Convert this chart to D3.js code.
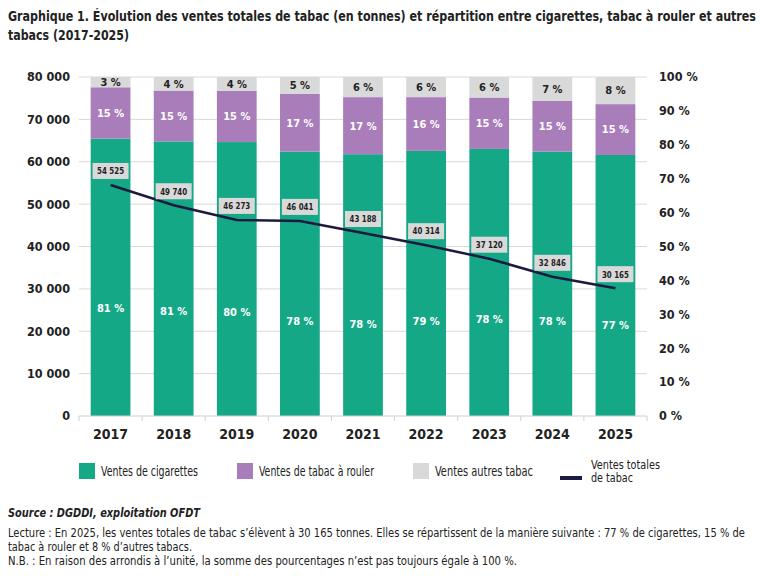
<!DOCTYPE html>
<html>
<head>
<meta charset="utf-8">
<script src="https://cdn.jsdelivr.net/npm/d3@7"></script>
<style>
  body { margin: 0; background: #fff; }
  svg text { font-family: "DejaVu Sans Condensed", "DejaVu Sans", sans-serif; font-stretch: condensed; }
</style>
</head>
<body>
<div id="chart"></div>
<script>
// data
var years = ['2017', '2018', '2019', '2020', '2021', '2022', '2023', '2024', '2025'];
var totalSales = [54525, 49740, 46273, 46041, 43188, 40314, 37120, 32846, 30165];
var cigShare = [81, 81, 80, 78, 78, 79, 78, 78, 77];
var rollShare = [15, 15, 15, 17, 17, 16, 15, 15, 15];
var otherShare = [3, 4, 4, 5, 6, 6, 6, 7, 8];
var leftTicks = [0, 10000, 20000, 30000, 40000, 50000, 60000, 70000, 80000];
var rightTicks = [0, 0.1, 0.2, 0.3, 0.4, 0.5, 0.6, 0.7, 0.8, 0.9, 1];

var colours = {cig: '#14a887', roll: '#a97cba', other: '#d9d9d9', line: '#1c1a3e'};

var W = 763, H = 576;
var svg = d3.select('#chart').append('svg')
    .attr('width', W).attr('height', H)
    .attr('viewBox', `0 0 ${W} ${H}`);

// title
var title = svg.append('text')
    .style('font-size', '13.5px').style('font-weight', 'bold').attr('fill', '#222');
title.append('tspan').attr('x', 8).attr('y', 21)
    .attr('textLength', 748).attr('lengthAdjust', 'spacingAndGlyphs')
    .text('Graphique 1. Évolution des ventes totales de tabac (en tonnes) et répartition entre cigarettes, tabac à rouler et autres');
title.append('tspan').attr('x', 8).attr('y', 40)
    .attr('textLength', 121).attr('lengthAdjust', 'spacingAndGlyphs')
    .text('tabacs (2017-2025)');

// scales
var x = d3.scaleBand().domain(years).range([79, 647]).paddingInner(0.37).paddingOuter(0.185);
var yLeft = d3.scaleLinear().domain([0, 80000]).range([416, 77]);
var yPct = d3.scaleLinear().domain([0, 1]).range([416, 77]);

var frFormat = d3.formatLocale({decimal: ',', thousands: '\u00a0', grouping: [3], currency: ['', ' €']}).format(',d');

// gridlines
svg.append('g').selectAll('line').data(leftTicks.slice(1)).enter().append('line')
    .attr('x1', 79).attr('x2', 647)
    .attr('y1', d => yLeft(d)).attr('y2', d => yLeft(d))
    .attr('stroke', '#d9d9d9').attr('stroke-width', 1);

// left axis labels
svg.append('g').selectAll('text').data(leftTicks).enter().append('text')
    .attr('x', 70).attr('y', d => yLeft(d)).attr('dy', '0.35em')
    .attr('text-anchor', 'end')
    .style('font-size', '12.5px').style('font-weight', 'bold').attr('fill', '#222')
    .text(d => d === 0 ? '0' : frFormat(d));

// right axis labels
svg.append('g').selectAll('text').data(rightTicks).enter().append('text')
    .attr('x', 659).attr('y', d => yPct(d)).attr('dy', '0.35em')
    .style('font-size', '12.5px').style('font-weight', 'bold').attr('fill', '#222')
    .text(d => Math.round(d * 100) + ' %');

// stacked bars (shares normalised to 100 %)
var rows = years.map((yr, i) => ({year: yr, cig: cigShare[i], roll: rollShare[i], other: otherShare[i]}));
var stack = d3.stack().keys(['cig', 'roll', 'other']).offset(d3.stackOffsetExpand);
var series = stack(rows);

svg.append('g').selectAll('g').data(series).enter().append('g')
    .attr('fill', d => colours[d.key])
    .selectAll('rect').data(d => d).enter().append('rect')
    .attr('x', d => x(d.data.year))
    .attr('y', d => yPct(d[1]))
    .attr('width', x.bandwidth())
    .attr('height', d => yPct(d[0]) - yPct(d[1]));

// x axis baseline and ticks
var xAxis = svg.append('g').attr('transform', 'translate(0,416)');
xAxis.append('line').attr('x1', 79).attr('x2', 647).attr('stroke', '#d0d0d0');
xAxis.selectAll('line.tk').data(d3.range(years.length + 1)).enter().append('line')
    .attr('class', 'tk')
    .attr('x1', i => 79 + i * x.step()).attr('x2', i => 79 + i * x.step())
    .attr('y1', 0).attr('y2', 5).attr('stroke', '#d0d0d0');
xAxis.selectAll('text').data(years).enter().append('text')
    .attr('x', d => x(d) + x.bandwidth() / 2).attr('y', 23)
    .attr('text-anchor', 'middle')
    .style('font-size', '14px').style('font-weight', 'bold').attr('fill', '#222')
    .text(d => d);

// segment labels
series.forEach(function(s) {
    svg.append('g').selectAll('text').data(s).enter().append('text')
        .attr('x', d => x(d.data.year) + x.bandwidth() / 2)
        .attr('y', function(d) {
            if (s.key === 'cig') return yPct(d[1]) + 170;
            return (yPct(d[0]) + yPct(d[1])) / 2;
        })
        .attr('dy', '0.35em')
        .attr('text-anchor', 'middle')
        .style('font-size', '11px').style('font-weight', 'bold')
        .attr('fill', s.key === 'other' ? '#222' : '#fff')
        .text(d => d.data[s.key] + ' %');
});

// total sales line
var line = d3.line()
    .x((d, i) => x(years[i]) + x.bandwidth() / 2)
    .y(d => yLeft(d));
svg.append('path').datum(totalSales)
    .attr('d', line)
    .attr('fill', 'none')
    .attr('stroke', colours.line)
    .attr('stroke-width', 2.5);

// line value boxes
var boxes = svg.append('g').selectAll('g').data(totalSales).enter().append('g')
    .attr('transform', (d, i) => `translate(${x(years[i]) + x.bandwidth() / 2},${yLeft(d) - 14})`);
boxes.append('rect')
    .attr('x', -18).attr('y', -8).attr('width', 36).attr('height', 16)
    .attr('fill', '#d9d9d9');
boxes.append('text')
    .attr('text-anchor', 'middle').attr('dy', '0.35em')
    .style('font-size', '9.5px').style('font-weight', 'bold').attr('fill', '#222')
    .attr('textLength', 27).attr('lengthAdjust', 'spacingAndGlyphs')
    .text(d => frFormat(d));

// legend
var legend = svg.append('g');
var legendItems = [
    {label: 'Ventes de cigarettes', colour: colours.cig, x: 79, w: 97},
    {label: 'Ventes de tabac à rouler', colour: colours.roll, x: 237, w: 115},
    {label: 'Ventes autres tabac', colour: colours.other, x: 413, w: 98}
];
legendItems.forEach(function(it) {
    legend.append('rect').attr('x', it.x).attr('y', 463).attr('width', 16).attr('height', 16)
        .attr('fill', it.colour);
    legend.append('text').attr('x', it.x + 22).attr('y', 471).attr('dy', '0.35em')
        .style('font-size', '13.5px').attr('fill', '#222')
        .attr('textLength', it.w).attr('lengthAdjust', 'spacingAndGlyphs')
        .text(it.label);
});
legend.append('rect').attr('x', 560).attr('y', 476).attr('width', 22).attr('height', 4)
    .attr('fill', colours.line);
var lt = legend.append('text').style('font-size', '12.5px').attr('fill', '#222');
lt.append('tspan').attr('x', 591).attr('y', 469)
    .attr('textLength', 69).attr('lengthAdjust', 'spacingAndGlyphs').text('Ventes totales');
lt.append('tspan').attr('x', 591).attr('y', 482)
    .attr('textLength', 42).attr('lengthAdjust', 'spacingAndGlyphs').text('de tabac');

// footer
svg.append('text').attr('x', 8).attr('y', 517)
    .style('font-size', '12.5px').style('font-weight', 'bold').style('font-style', 'italic')
    .attr('fill', '#222')
    .attr('textLength', 192).attr('lengthAdjust', 'spacingAndGlyphs')
    .text('Source : DGDDI, exploitation OFDT');
var notes = [
    'Lecture : En 2025, les ventes totales de tabac s\u2019élèvent à 30 165 tonnes. Elles se répartissent de la manière suivante : 77 % de cigarettes, 15 % de',
    'tabac à rouler et 8 % d\u2019autres tabacs.',
    'N.B. : En raison des arrondis à l\u2019unité, la somme des pourcentages n\u2019est pas toujours égale à 100 %.'
];
var noteWidths = [737, 184, 509];
svg.append('g').selectAll('text').data(notes).enter().append('text')
    .attr('x', 8).attr('y', (d, i) => 537 + i * 14)
    .style('font-size', '11.5px').attr('fill', '#222')
    .attr('textLength', (d, i) => noteWidths[i]).attr('lengthAdjust', 'spacingAndGlyphs')
    .text(d => d);
</script>
</body>
</html>
